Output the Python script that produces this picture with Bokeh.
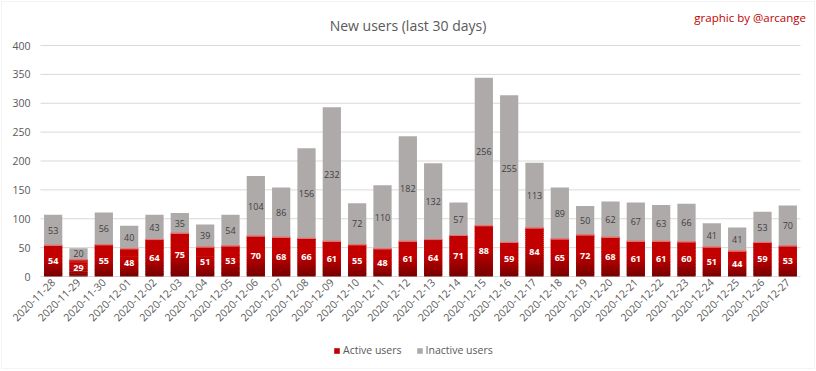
import math
from bokeh.plotting import figure
from bokeh.models import Range1d, Label, Legend, LegendItem, BoxAnnotation
from bokeh.core.properties import value
from bokeh.embed import file_html
from bokeh.resources import INLINE

dates = ["2020-11-28", "2020-11-29", "2020-11-30", "2020-12-01", "2020-12-02",
         "2020-12-03", "2020-12-04", "2020-12-05", "2020-12-06", "2020-12-07",
         "2020-12-08", "2020-12-09", "2020-12-10", "2020-12-11", "2020-12-12",
         "2020-12-13", "2020-12-14", "2020-12-15", "2020-12-16", "2020-12-17",
         "2020-12-18", "2020-12-19", "2020-12-20", "2020-12-21", "2020-12-22",
         "2020-12-23", "2020-12-24", "2020-12-25", "2020-12-26", "2020-12-27"]
active = [54, 29, 55, 48, 64, 75, 51, 53, 70, 68, 66, 61, 55, 48, 61,
          64, 71, 88, 59, 84, 65, 72, 68, 61, 61, 60, 51, 44, 59, 53]
inactive = [53, 20, 56, 40, 43, 35, 39, 54, 104, 86, 156, 232, 72, 110, 182,
            132, 57, 256, 255, 113, 89, 50, 62, 67, 63, 66, 41, 41, 53, 70]
y_ticks = [0, 50, 100, 150, 200, 250, 300, 350, 400]

title_text = "New users (last 30 days)"
credit_text = "graphic by @arcange"
series_names = ["Active users", "Inactive users"]

FONT = "Open Sans"
GREY = "#aeaaaa"
TEXT = "#595959"
W, H = 816, 371

n = len(dates)
xs = [i + 0.5 for i in range(n)]
y_max = y_ticks[-1]

# Whole canvas is the frame; the category area spans 40..800 px horizontally,
# the value axis 0..400 spans 276..45 px vertically.
p = figure(x_range=Range1d(-n * 40 / 760, n * (W - 40) / 760),
           y_range=Range1d(-y_max * (H - 276) / 231, y_max * 276 / 231),
           width=W, height=H, output_backend="svg", toolbar_location=None,
           x_axis_location=None, y_axis_location=None,
           min_border_left=0, min_border_right=0, min_border_top=0,
           min_border_bottom=0)
p.title.visible = False
p.grid.visible = False
p.outline_line_color = None
p.background_fill_color = "white"
p.border_fill_color = "white"

# chart border
p.add_layout(BoxAnnotation(left=1, right=W - 2, bottom=3, top=H - 1,
                           left_units="screen", right_units="screen",
                           bottom_units="screen", top_units="screen",
                           fill_alpha=0, line_color="#d9d9d9", line_width=1))

# horizontal grid lines (the one at 0 acts as the category axis line)
p.segment(x0=[0] * len(y_ticks), x1=[n] * len(y_ticks),
          y0=y_ticks, y1=y_ticks, line_color="#d9d9d9", line_width=1)

# value-axis tick labels
p.text(x=[0] * len(y_ticks), y=y_ticks, text=[str(t) for t in y_ticks],
       x_offset=-10, text_align="right", text_baseline="middle",
       text_color=TEXT, text_font=value(FONT), text_font_size="10.5px")

# category tick labels, rotated 45 degrees
p.text(x=xs, y=[0] * n, text=dates, angle=math.pi / 4, y_offset=4,
       text_align="right", text_baseline="middle",
       text_color=TEXT, text_font=value(FONT), text_font_size="10.5px")

# gradient-filled active bars built as thin stacked slices
N = 24
slices = []
for k in range(N):
    f = (k + 0.5) / N
    if f >= 0.55:
        r = 194
    else:
        r = int(round(116 + (194 - 116) * f / 0.55))
    col = "#%02x0000" % r
    bottoms = [a * k / N for a in active]
    tops = [a * min(k + 1.6, N) / N for a in active]
    rr = p.vbar(x=xs, bottom=bottoms, top=tops, width=0.72,
                fill_color=col, line_color=None)
    slices.append(rr)

totals = [a + i for a, i in zip(active, inactive)]
r_in = p.vbar(x=xs, bottom=active, top=totals, width=0.72,
              fill_color=GREY, line_color=None)

# thin light edge at top of red segment
p.vbar(x=xs, bottom=active, top=active, width=0.72, fill_alpha=0,
       line_color="#e87070", line_width=1)

# value labels
p.text(x=xs, y=[a / 2 for a in active], text=[str(a) for a in active],
       text_align="center", text_baseline="middle", text_color="white",
       text_font=value(FONT), text_font_size="9px", text_font_style="bold")
p.text(x=xs, y=[a + i / 2 for a, i in zip(active, inactive)],
       text=[str(i) for i in inactive],
       text_align="center", text_baseline="middle", text_color="#404040",
       text_font=value(FONT), text_font_size="9px")

# title & credit
p.add_layout(Label(x=407.5, y=H - 25, x_units="screen", y_units="screen",
                   text=title_text, text_align="center",
                   text_baseline="alphabetic", text_font=FONT,
                   text_font_size="14px", text_color=TEXT))
p.add_layout(Label(x=805.5, y=H - 17, x_units="screen", y_units="screen",
                   text=credit_text, text_align="right",
                   text_baseline="alphabetic", text_font=FONT,
                   text_font_size="11.5px", text_color="#c00000"))

legend = Legend(items=[LegendItem(label=series_names[0], renderers=[slices[-1]]),
                       LegendItem(label=series_names[1], renderers=[r_in])],
                location=(333, H - 357), orientation="horizontal",
                glyph_width=7, glyph_height=7, label_standoff=3, spacing=14,
                padding=0, margin=0, border_line_color=None,
                background_fill_alpha=0, label_height=12,
                label_text_font=FONT, label_text_font_size="10.5px",
                label_text_color=TEXT)
p.add_layout(legend)

open("out.html", "w").write(file_html(p, INLINE))
